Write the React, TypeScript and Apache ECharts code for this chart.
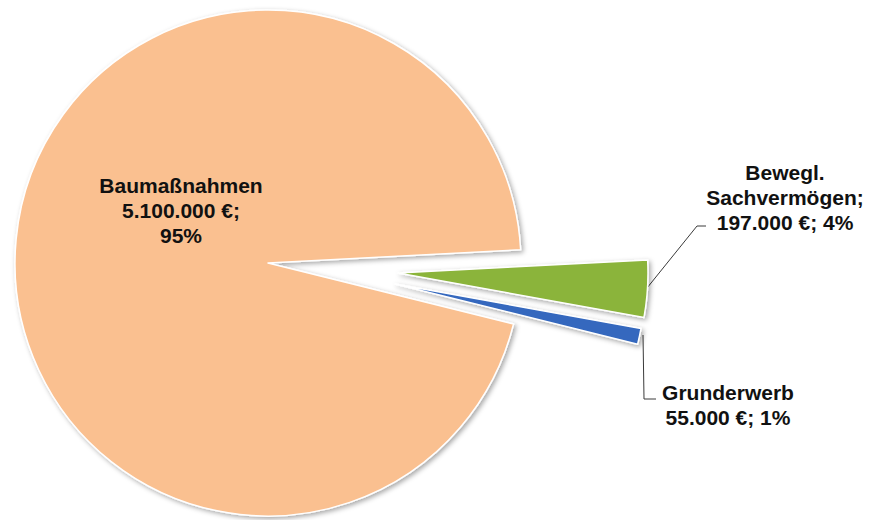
import React, { useEffect, useRef } from "react";
import * as echarts from "echarts";

// ---- data ----
const categories = ["Bewegl.\nSachvermögen", "Grunderwerb", "Baumaßnahmen"];
const values = [197000, 55000, 5100000];

// ---- styling / layout (not data) ----
const colors = ["#8BB43A", "#3468BE", "#FAC090"];
const centers: [number, number][] = [
  [398, 273],
  [395, 284],
  [268, 263],
];
const radii = [250, 250, 253];
const labelPos: [number, number][] = [
  [785, 197],
  [728, 405],
  [181, 210],
];
const leaderLines: ([number, number][] | null)[] = [
  [
    [647, 288],
    [697, 226],
    [706, 226],
  ],
  [
    [643, 335],
    [644, 399],
    [656, 399],
  ],
  null,
];

const fmt = (v: number) => String(v).replace(/\B(?=(\d{3})+(?!\d))/g, ".");

const labelText = (i: number, name: string, value: number, pct: number) => {
  const p = Math.round(pct) + "%";
  if (i === 0) return `${name};\n${fmt(value)} €; ${p}`;
  if (i === 1) return `${name}\n${fmt(value)} €; ${p}`;
  return `${name}\n${fmt(value)} €;\n${p}`;
};

export default function App() {
  const ref = useRef<HTMLDivElement>(null);
  useEffect(() => {
    if (!ref.current) return;
    const chart = echarts.init(ref.current, undefined, { renderer: "svg" });
    const series = [2, 0, 1].map((k) => ({
      type: "pie",
      startAngle: 3,
      clockwise: true,
      center: centers[k],
      radius: [0, radii[k]],
      avoidLabelOverlap: false,
      silent: true,
      emphasis: { disabled: true },
      label: {
        show: true,
        position: "outside",
        fontFamily: "Liberation Sans, Arial, sans-serif",
        fontWeight: "bold",
        fontSize: 21,
        lineHeight: 25,
        color: "#111",
        align: "center",
        formatter: (p: any) => labelText(p.dataIndex, p.name, p.value, p.percent),
      },
      labelLine: {
        show: true,
        lineStyle: { color: "#3a3a3a", width: 1 },
      },
      labelLayout: (params: any) => {
        if (params.dataIndex !== k) return {};
        const res: any = {
          x: labelPos[k][0],
          y: labelPos[k][1],
          align: "center",
          verticalAlign: "middle",
        };
        if (leaderLines[k]) res.labelLinePoints = leaderLines[k];
        return res;
      },
      data: values.map((v, i) =>
        i === k
          ? {
              value: v,
              name: categories[i],
              itemStyle: {
                color: colors[i],
                borderColor: "#ffffff",
                borderWidth: 1.5,
                shadowBlur: 5,
                shadowOffsetX: 2,
                shadowOffsetY: 2,
                shadowColor: "rgba(0,0,0,0.35)",
              },
              label: { show: true },
              labelLine: { show: !!leaderLines[i] },
            }
          : {
              value: v,
              name: categories[i],
              itemStyle: {
                color: "rgba(0,0,0,0)",
                borderWidth: 0,
                shadowBlur: 0,
                shadowColor: "rgba(0,0,0,0)",
              },
              label: { show: false },
              labelLine: { show: false },
            }
      ),
    }));
    chart.setOption({
      animation: false,
      backgroundColor: "#ffffff",
      series,
    } as any);
    return () => chart.dispose();
  }, []);
  return (
    <div
      ref={ref}
      style={{ position: "fixed", left: 0, top: 0, width: 873, height: 520 }}
    />
  );
}
